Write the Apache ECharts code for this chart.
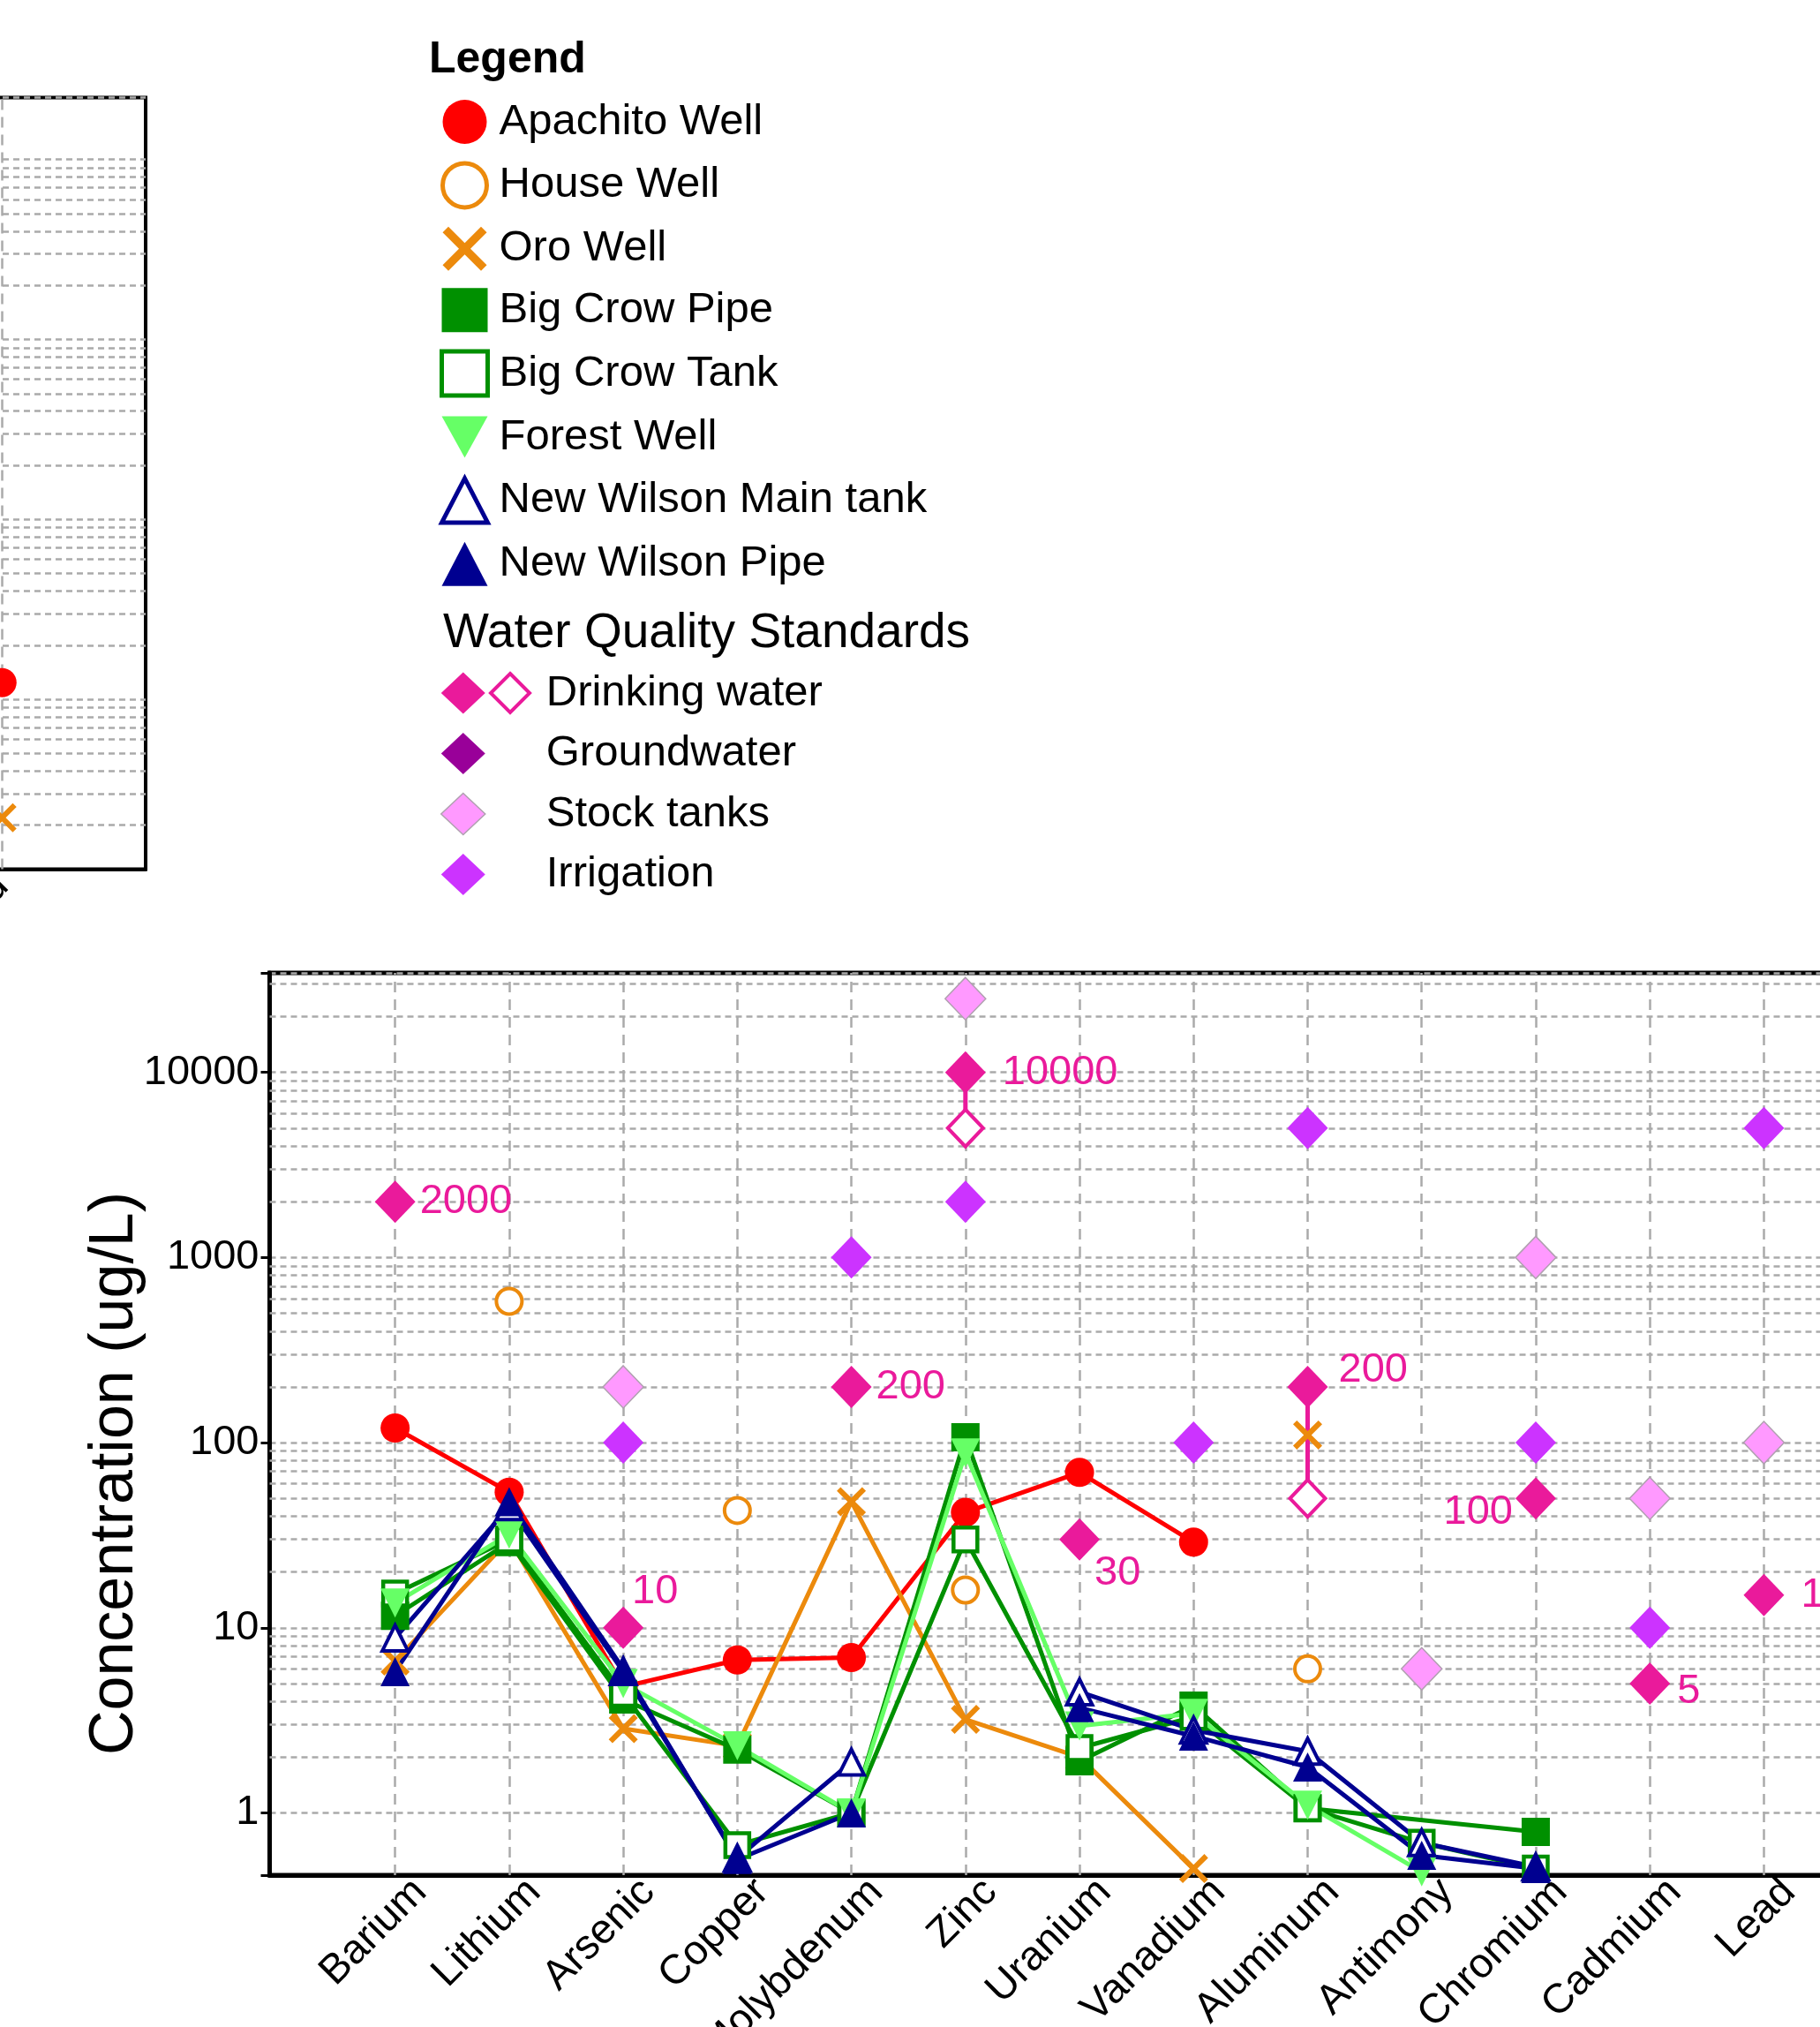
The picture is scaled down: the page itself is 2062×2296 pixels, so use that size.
<!DOCTYPE html>
<html><head><meta charset="utf-8">
<script src="https://cdn.jsdelivr.net/npm/echarts@6/dist/echarts.min.js"></script>
<style>html,body{margin:0;padding:0;background:#fff}#c{width:2062px;height:2296px}</style>
</head><body><div id="c"></div>
<script>
// ---------- data ----------
const categories = ['Barium','Lithium','Arsenic','Copper','Molybdenum','Zinc','Uranium','Vanadium','Aluminum','Antimony','Chromium','Cadmium','Lead'];
const apachitoWell   = [120, 54, 4.8, 6.7, 6.9, 42, 69, 29, null, null, null, null, null];
const houseWell      = [null, 580, null, 43, null, 16, null, null, 6.0, null, null, null, null];
const oroWell        = [6.6, 30, 2.85, 2.3, 48, 3.2, 2.0, 0.5, null, null, null, null, null];
const oroWellApart   = [null, null, null, null, null, null, null, null, 110, null, null, null, null];
const bigCrowPipe    = [11.6, 29, 4.1, 2.2, 1.0, 107, 1.9, 3.8, 1.06, null, 0.79, null, null];
const bigCrowTank    = [15.3, 30, 4.4, 0.67, 1.0, 30, 2.24, 3.3, 1.06, 0.69, 0.5, null, null];
const forestWell     = [13.6, 32, 5.0, 2.3, 1.0, 88, 2.95, 3.45, 1.1, 0.48, null, null, null];
const newWilsonMain  = [8.8, 45, 5.8, 0.57, 1.88, null, 4.5, 2.8, 2.15, 0.69, 0.51, null, null];
const newWilsonPipe  = [5.8, 48, 6.0, 0.56, 1.0, null, 3.7, 2.6, 1.77, 0.59, 0.5, null, null];

const drinkingWater     = [2000, null, 10, null, 200, 10000, 30, null, 200, null, 50, 5, 15];
const drinkingLabels    = ['2000', '', '10', '', '200', '10000', '30', '', '200', '', '100', '5', '15'];
const drinkingWaterLow  = [null, null, null, null, null, 5000, null, null, 50, null, null, null, null];
const groundwater       = [null, null, null, null, null, null, null, null, null, null, null, null, null];
const stockTanks        = [null, null, 200, null, null, 25000, null, null, null, 6, 1000, 50, 100];
const irrigation        = [null, null, 100, null, 1000, 2000, null, 100, 5000, null, 100, 10, 5000];

const yMajorTicks = [1, 10, 100, 1000, 10000];
const yMinorMantissas = [2, 3, 4, 5, 6, 7, 8, 9];
const yMinorExtra = [20000, 30000];

// partial neighbouring panel (cut at the left edge)
const leftCategories = ['Lead'];
const leftApachito = [12.4];
const leftOro = [2.2];

// ---------- styles ----------
const FONT = "'Liberation Sans', Arial, sans-serif";
const RED = '#ff0000', ORANGE = '#ec8a0c', GREEN = '#009000', LGREEN = '#66ff66', NAVY = '#000090';
const PINK = '#ea1a9b', PURPLE = '#990099', LPINK = '#ff99ff', VIOLET = '#cc33ff';
const XPATH = 'path://M0,1.3L1.3,0L5,3.7L8.7,0L10,1.3L6.3,5L10,8.7L8.7,10L5,6.3L1.3,10L0,8.7L3.7,5Z';
const DOWNTRI = 'path://M0,0L10,0L5,9Z';
const GRIDLINE = {type: [7, 5], color: '#aaaaaa', width: 2.5};
const VGRIDLINE = {type: [12, 8], color: '#aaaaaa', width: 2.5};
const LABEL_SHIFT = 0.22;

const xs = categories.map((c, i) => i + 1);
const pts = arr => arr.map((v, i) => [i + 1, v]);

const drinkLabelPlace = [
  {position: 'right', offset: [0, 0]}, null,
  {position: 'right', offset: [-18, -41]}, null,
  {position: 'right', offset: [0, 0]},
  {position: 'right', offset: [14, 0]},
  {position: 'right', offset: [-11, 38]}, null,
  {position: 'right', offset: [7, -19]}, null,
  {position: 'left', offset: [2, 16]},
  {position: 'right', offset: [3, 9]},
  {position: 'right', offset: [14, 0]}
];

const minorVals = [];
yMajorTicks.slice(0, 4).forEach(d => yMinorMantissas.forEach(m => minorVals.push(m * d)));
yMinorExtra.forEach(v => minorVals.push(v));
const leftMinorVals = [];
[1, 10, 100, 1000].forEach(d => yMinorMantissas.forEach(m => leftMinorVals.push(m * d)));

function wellLine(name, arr, symbol, size, item, color, extra) {
  return Object.assign({
    name, type: 'line', data: pts(arr), symbol, symbolSize: size, showSymbol: true, showAllSymbol: true,
    itemStyle: Object.assign({opacity: 1}, item), lineStyle: {color, width: 5}, z: 5, connectNulls: false, animation: false
  }, extra || {});
}
function scat(name, arr, symbol, size, item, extra) {
  return Object.assign({
    name, type: 'scatter', data: pts(arr), symbol, symbolSize: size,
    itemStyle: Object.assign({opacity: 1}, item), z: 3, animation: false
  }, extra || {});
}

const series = [
  // minor horizontal + category vertical grid lines (main)
  {name: '_grid', type: 'line', data: [], silent: true, z: 1,
   markLine: {silent: true, z: 1, symbol: 'none', animation: false, label: {show: false},
     lineStyle: GRIDLINE,
     data: minorVals.map(v => ({yAxis: v})).concat(xs.map(x => ({xAxis: x, lineStyle: VGRIDLINE})))}},
  // left panel grid lines
  {name: '_grid2', type: 'line', xAxisIndex: 1, yAxisIndex: 1, data: [], silent: true, z: 1,
   markLine: {silent: true, z: 1, symbol: 'none', animation: false, label: {show: false},
     lineStyle: GRIDLINE,
     data: leftMinorVals.map(v => ({yAxis: v})).concat([{xAxis: 13, lineStyle: VGRIDLINE}])}},
];

// drinking water range connectors
drinkingWaterLow.forEach((v, i) => {
  if (v != null) series.push({name: 'Drinking water', type: 'line', data: [[i + 1, drinkingWater[i]], [i + 1, v]],
    symbol: 'none', lineStyle: {color: PINK, width: 5}, z: 2, animation: false, silent: true});
});

series.push(
  {name: 'Drinking water', type: 'scatter', symbol: 'diamond', symbolSize: [46, 48], z: 3, animation: false,
   itemStyle: {color: PINK, opacity: 1},
   data: drinkingWater.map((v, i) => v == null ? [i + 1, null] : {value: [i + 1, v],
     label: Object.assign({show: true, formatter: drinkingLabels[i], color: PINK, fontSize: 47, fontFamily: FONT, distance: 5}, drinkLabelPlace[i])})},
  scat('Drinking water', drinkingWaterLow, 'diamond', [40, 42], {color: '#fff', borderColor: PINK, borderWidth: 4}),
  scat('Groundwater', groundwater, 'diamond', [46, 48], {color: PURPLE}),
  scat('Stock tanks', stockTanks, 'diamond', [46, 48], {color: LPINK, borderColor: '#b0a0b0', borderWidth: 1.5}),
  scat('Irrigation', irrigation, 'diamond', [46, 48], {color: VIOLET}),

  wellLine('Apachito Well', apachitoWell, 'circle', 33, {color: RED}, RED),
  scat('House Well', houseWell, 'circle', 29, {color: '#fff', borderColor: ORANGE, borderWidth: 4}, {z: 5}),
  wellLine('Oro Well', oroWell, XPATH, 33, {color: ORANGE}, ORANGE),
  scat('Oro Well', oroWellApart, XPATH, 33, {color: ORANGE}, {z: 5}),
  wellLine('Big Crow Pipe', bigCrowPipe, 'rect', 32, {color: GREEN}, GREEN, {connectNulls: true}),
  wellLine('Big Crow Tank', bigCrowTank, 'rect', 27, {color: '#fff', borderColor: GREEN, borderWidth: 4.5}, GREEN),
  wellLine('Forest Well', forestWell, DOWNTRI, 33, {color: LGREEN}, LGREEN),
  wellLine('New Wilson Main tank', newWilsonMain, 'triangle', 29, {color: '#fff', borderColor: NAVY, borderWidth: 4}, NAVY),
  wellLine('New Wilson Pipe', newWilsonPipe, 'triangle', 33, {color: NAVY}, NAVY),

  // left partial panel points
  {name: 'Apachito Well', type: 'scatter', xAxisIndex: 1, yAxisIndex: 1, symbol: 'circle', symbolSize: 33,
   itemStyle: {color: RED, opacity: 1}, z: 5, animation: false, data: leftApachito.map(v => [13, v])},
  {name: 'Oro Well', type: 'scatter', xAxisIndex: 1, yAxisIndex: 1, symbol: XPATH, symbolSize: 33,
   itemStyle: {color: ORANGE, opacity: 1}, z: 5, animation: false, data: leftOro.map(v => [13, v])}
);

const legendText = {fontSize: 49, fontFamily: FONT, color: '#000', lineHeight: 50};

const option = {
  backgroundColor: '#fff',
  animation: false,
  title: [
    {text: 'Legend', left: 486, top: 42, padding: 0,
     textStyle: {fontSize: 50, fontWeight: 'bold', fontFamily: FONT, color: '#000', lineHeight: 52}},
    {text: 'Water Quality Standards', left: 502, top: 690, padding: 0,
     textStyle: {fontSize: 55, fontWeight: 'normal', fontFamily: FONT, color: '#000', lineHeight: 56}}
  ],
  legend: [
    {orient: 'vertical', left: 498, top: 113, itemWidth: 52, itemHeight: 50, itemGap: 19.4, padding: 0,
     selectedMode: false, textStyle: Object.assign({padding: [0, 0, 0, 8]}, legendText),
     data: [
       {name: 'Apachito Well', icon: 'circle', itemStyle: {color: RED, borderWidth: 0}},
       {name: 'House Well', icon: 'circle', itemStyle: {color: '#fff', borderColor: ORANGE, borderWidth: 5}},
       {name: 'Oro Well', icon: XPATH, itemStyle: {color: ORANGE, borderWidth: 0}},
       {name: 'Big Crow Pipe', icon: 'rect', itemStyle: {color: GREEN, borderWidth: 0}},
       {name: 'Big Crow Tank', icon: 'rect', itemStyle: {color: '#fff', borderColor: GREEN, borderWidth: 5}},
       {name: 'Forest Well', icon: DOWNTRI, itemStyle: {color: LGREEN, borderWidth: 0}},
       {name: 'New Wilson Main tank', icon: 'triangle', itemStyle: {color: '#fff', borderColor: NAVY, borderWidth: 5}},
       {name: 'New Wilson Pipe', icon: 'triangle', itemStyle: {color: NAVY, borderWidth: 0}}
     ]},
    {orient: 'vertical', left: 499, top: 760, itemWidth: 50, itemHeight: 47, itemGap: 18.5, padding: 0,
     selectedMode: false, textStyle: Object.assign({padding: [0, 0, 0, 64]}, legendText),
     data: [
       {name: 'Drinking water', icon: 'diamond', itemStyle: {color: PINK, borderWidth: 0}},
       {name: 'Groundwater', icon: 'diamond', itemStyle: {color: PURPLE, borderWidth: 0}},
       {name: 'Stock tanks', icon: 'diamond', itemStyle: {color: LPINK, borderColor: '#b0a0b0', borderWidth: 1.5}},
       {name: 'Irrigation', icon: 'diamond', itemStyle: {color: VIOLET, borderWidth: 0}}
     ]}
  ],
  graphic: [
    {type: 'polygon', shape: {points: [[578, 763], [600, 785], [578, 807], [556, 785]]},
     style: {fill: '#fff', stroke: PINK, lineWidth: 4}, silent: true}
  ],
  grid: [
    {left: 305.5, top: 1102, width: 1848, height: 1022, show: true, borderColor: '#000', borderWidth: 5,
     outerBoundsMode: 'none', containLabel: false},
    {left: -1677, top: 110.5, width: 1842, height: 874, show: true, borderColor: '#000', borderWidth: 4,
     outerBoundsMode: 'none', containLabel: false}
  ],
  xAxis: [
    {gridIndex: 0, type: 'value', min: -0.1, max: 14.2,
     axisLine: {show: true, onZero: false, lineStyle: {color: '#000', width: 5}},
     axisTick: {show: false},
     axisLabel: {customValues: xs.map(x => x + LABEL_SHIFT), formatter: v => categories[Math.round(v - LABEL_SHIFT) - 1] || '', rotate: 45,
       fontSize: 47, fontFamily: FONT, color: '#000', margin: 12},
     splitLine: {show: false}},
    {gridIndex: 1, type: 'value', min: 0, max: 14.26,
     axisLine: {show: true, onZero: false, lineStyle: {color: '#000', width: 4}},
     axisTick: {show: false},
     axisLabel: {customValues: [13], formatter: () => leftCategories[0], rotate: 45,
       fontSize: 47, fontFamily: FONT, color: '#000', margin: 12},
     splitLine: {show: false}}
  ],
  yAxis: [
    {gridIndex: 0, type: 'log', logBase: 10, min: 0.461, max: 34450,
     axisLine: {show: true, onZero: false, lineStyle: {color: '#000', width: 5}},
     axisTick: {show: true, length: 10, lineStyle: {color: '#000', width: 3}},
     axisLabel: {fontSize: 47, fontFamily: FONT, color: '#000', margin: 12,
       formatter: v => { const l = Math.log10(v); return Math.abs(l - Math.round(l)) < 1e-6 && yMajorTicks.indexOf(Math.round(v)) >= 0 ? String(Math.round(v)) : ''; }},
     splitLine: {show: true, lineStyle: GRIDLINE},
     name: 'Concentration (ug/L)', nameLocation: 'middle', nameGap: 140, nameMoveOverlap: false,
     nameTextStyle: {fontSize: 70, fontFamily: FONT, color: '#000', padding: [0, 112, 0, 0]}},
    {gridIndex: 1, type: 'log', logBase: 10, min: 1.14, max: 22080,
     axisLine: {show: false, onZero: false}, axisTick: {show: false}, axisLabel: {show: false},
     splitLine: {show: true, lineStyle: GRIDLINE}}
  ],
  series
};

const chart = echarts.init(document.getElementById('c'), null, {renderer: 'canvas', width: 2062, height: 2296});
chart.setOption(option);
</script></body></html>
